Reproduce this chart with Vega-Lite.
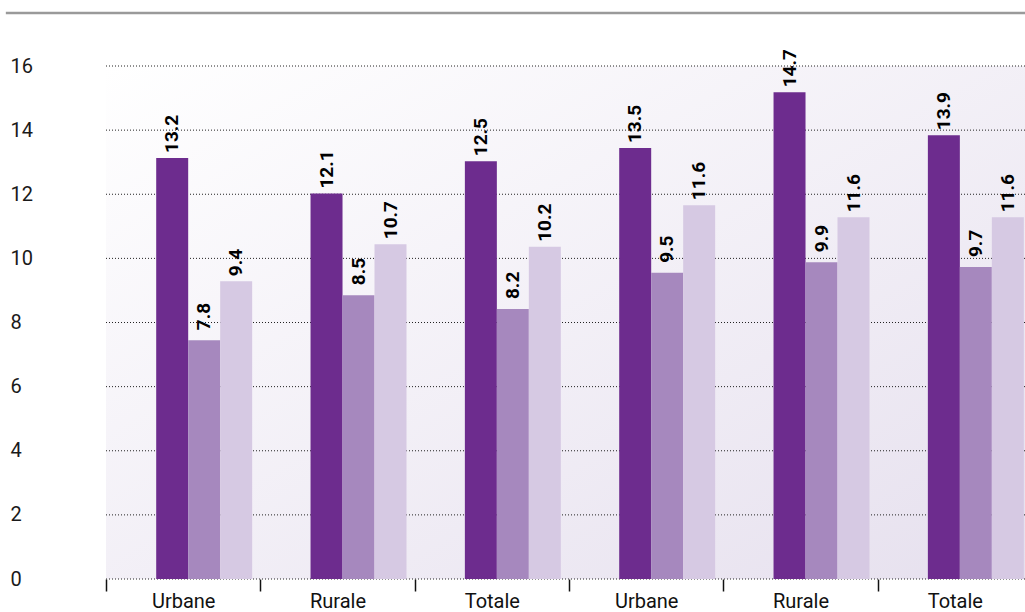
{
  "$schema": "https://vega.github.io/schema/vega-lite/v6.json",
  "width": 919,
  "height": 513,
  "autosize": "none",
  "padding": {"left": 106, "top": 66, "right": 0, "bottom": 33},
  "background": "white",
  "config": {"view": {"stroke": null}, "font": "Roboto"},
  "datasets": {
    "bars": [
      {"g": "1 Urbane", "s": "A", "value": 13.2, "drawn": 13.13},
      {"g": "1 Urbane", "s": "B", "value": 7.8, "drawn": 7.45},
      {"g": "1 Urbane", "s": "C", "value": 9.4, "drawn": 9.29},
      {"g": "2 Rurale", "s": "A", "value": 12.1, "drawn": 12.02},
      {"g": "2 Rurale", "s": "B", "value": 8.5, "drawn": 8.85},
      {"g": "2 Rurale", "s": "C", "value": 10.7, "drawn": 10.44},
      {"g": "3 Totale", "s": "A", "value": 12.5, "drawn": 13.03},
      {"g": "3 Totale", "s": "B", "value": 8.2, "drawn": 8.42},
      {"g": "3 Totale", "s": "C", "value": 10.2, "drawn": 10.36},
      {"g": "4 Urbane", "s": "A", "value": 13.5, "drawn": 13.44},
      {"g": "4 Urbane", "s": "B", "value": 9.5, "drawn": 9.55},
      {"g": "4 Urbane", "s": "C", "value": 11.6, "drawn": 11.66},
      {"g": "5 Rurale", "s": "A", "value": 14.7, "drawn": 15.18},
      {"g": "5 Rurale", "s": "B", "value": 9.9, "drawn": 9.88},
      {"g": "5 Rurale", "s": "C", "value": 11.6, "drawn": 11.28},
      {"g": "6 Totale", "s": "A", "value": 13.9, "drawn": 13.84},
      {"g": "6 Totale", "s": "B", "value": 9.7, "drawn": 9.73},
      {"g": "6 Totale", "s": "C", "value": 11.6, "drawn": 11.28}
    ],
    "grid": [{"v": 0}, {"v": 2}, {"v": 4}, {"v": 6}, {"v": 8}, {"v": 10}, {"v": 12}, {"v": 14}, {"v": 16}]
  },
  "layer": [
    {
      "layer": [
        {
          "data": {"values": [{}]},
          "mark": {"type": "rect", "color": {"gradient": "linear", "x1": 0, "y1": 0, "x2": 1, "y2": 1, "stops": [{"offset": 0, "color": "#ffffff"}, {"offset": 1, "color": "#e6e0ee"}]}},
          "encoding": {
            "y": {"datum": 0, "type": "quantitative", "scale": {"domain": [0, 16], "nice": false}},
            "y2": {"datum": 16}
          }
        },
        {
          "data": {"name": "grid"},
          "mark": {"type": "rule", "strokeDash": [1, 2], "color": "#222222", "strokeWidth": 1},
          "encoding": {
            "y": {"field": "v", "type": "quantitative", "scale": {"domain": [0, 16], "nice": false}}
          }
        },
        {
          "data": {"name": "bars"},
          "mark": {"type": "bar"},
          "encoding": {
            "x": {
              "field": "g", "type": "nominal",
              "scale": {"range": [0, 926], "paddingInner": 0, "paddingOuter": 0},
              "axis": {"title": null, "tickBand": "extent", "tickSize": 12, "tickColor": "#111111", "tickWidth": 1.5, "domain": false, "labelExpr": "slice(datum.label, 2)", "labelFontSize": 20, "labelFont": "Roboto", "labelBaseline": "alphabetic", "labelPadding": 16, "labelColor": "#111111", "labelAngle": 0}
            },
            "xOffset": {"field": "s", "type": "nominal", "scale": {"paddingInner": 0, "paddingOuter": 0.9125, "align": 0.86}},
            "y": {
              "field": "drawn", "type": "quantitative",
              "scale": {"domain": [0, 16], "nice": false},
              "axis": {"title": null, "values": [0, 2, 4, 6, 8, 10, 12, 14, 16], "grid": false, "domain": false, "ticks": false, "tickSize": 0, "labelAlign": "left", "labelPadding": 96, "labelFont": "Roboto", "labelFontSize": 20, "labelColor": "#1a1a1a"}
            },
            "color": {"field": "s", "type": "nominal", "scale": {"domain": ["A", "B", "C"], "range": ["#6d2c8e", "#a688be", "#d6c9e3"]}, "legend": null}
          }
        },
        {
          "data": {"name": "bars"},
          "transform": [{"filter": "datum.s !== 'B'"}],
          "mark": {"type": "text", "angle": 270, "align": "left", "baseline": "middle", "dx": 5, "font": "Roboto", "fontWeight": "bold", "fontSize": 19, "color": "#000000"},
          "encoding": {
            "x": {"field": "g", "type": "nominal"},
            "xOffset": {"field": "s", "type": "nominal"},
            "y": {"field": "drawn", "type": "quantitative", "scale": {"domain": [0, 16], "nice": false}},
            "text": {"field": "value", "type": "quantitative", "format": ".1f"}
          }
        },
        {
          "data": {"name": "bars"},
          "transform": [{"filter": "datum.s === 'B'"}],
          "mark": {"type": "text", "angle": 270, "align": "left", "baseline": "middle", "dx": 10, "font": "Roboto", "fontWeight": "bold", "fontSize": 19, "color": "#000000"},
          "encoding": {
            "x": {"field": "g", "type": "nominal"},
            "xOffset": {"field": "s", "type": "nominal"},
            "y": {"field": "drawn", "type": "quantitative", "scale": {"domain": [0, 16], "nice": false}},
            "text": {"field": "value", "type": "quantitative", "format": ".1f"}
          }
        }
      ]
    },
    {
      "data": {"values": [{}]},
      "mark": {"type": "rule", "color": "#9a9a9a", "strokeWidth": 2.5, "clip": false},
      "encoding": {
        "x": {"datum": -0.109, "type": "quantitative", "scale": {"domain": [0, 1], "nice": false, "zero": false}, "axis": null},
        "x2": {"datum": 1},
        "y": {"datum": 17.65, "type": "quantitative", "scale": {"domain": [0, 16], "nice": false}}
      }
    }
  ],
  "resolve": {"scale": {"x": "independent"}}
}
